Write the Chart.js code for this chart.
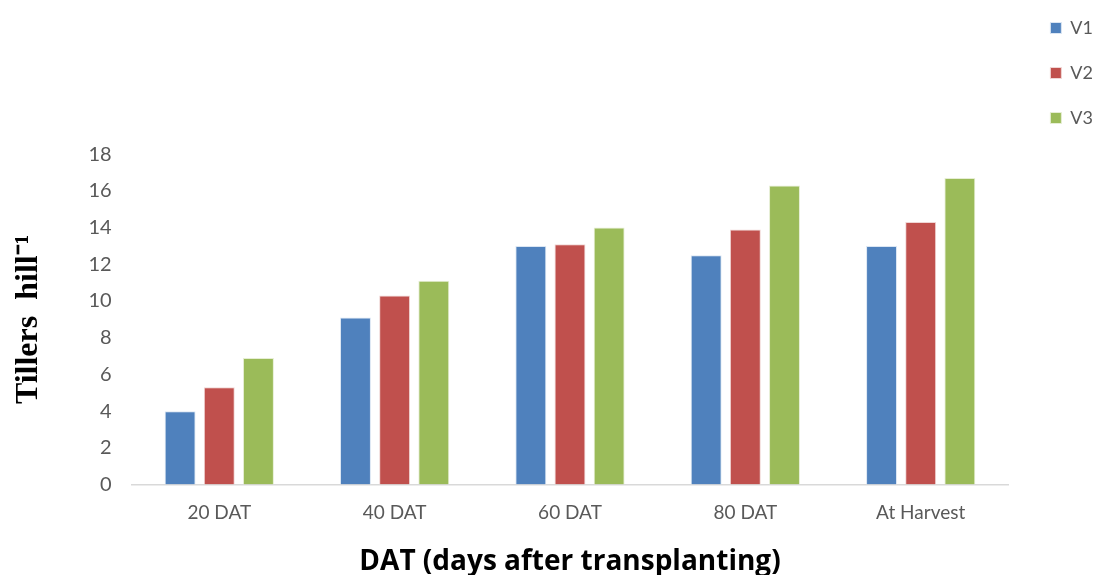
<!DOCTYPE html>
<html>
<head>
<meta charset="utf-8">
<script src="https://cdn.jsdelivr.net/npm/chart.js@4"></script>
<style>
  html, body { margin: 0; padding: 0; background: #fff; }
  #wrap { width: 1103px; height: 575px; }
</style>
</head>
<body>
<div id="wrap"><canvas id="c" width="1103" height="575"></canvas></div>
<script>
const categories = ['20 DAT', '40 DAT', '60 DAT', '80 DAT', 'At Harvest'];
const v1 = [4.0, 9.1, 13.0, 12.5, 13.0];
const v2 = [5.3, 10.3, 13.1, 13.9, 14.3];
const v3 = [6.9, 11.1, 14.0, 16.3, 16.7];
const yTicks = [0, 2, 4, 6, 8, 10, 12, 14, 16, 18];

const tickColor = '#595959';

new Chart(document.getElementById('c'), {
  type: 'bar',
  data: {
    labels: categories,
    datasets: [
      { label: 'V1', data: v1, backgroundColor: '#4f81bd', borderColor: '#dbe6f3', borderWidth: 1 },
      { label: 'V2', data: v2, backgroundColor: '#c0504d', borderColor: '#f0d6d5', borderWidth: 1 },
      { label: 'V3', data: v3, backgroundColor: '#9bbb59', borderColor: '#e6eed4', borderWidth: 1 }
    ]
  },
  options: {
    responsive: false,
    animation: false,
    devicePixelRatio: 1,
    layout: { padding: { top: -8, left: 10, right: 0, bottom: -4 } },
    datasets: { bar: { categoryPercentage: 0.67, barPercentage: 0.79 } },
    plugins: {
      title: { display: true, text: ' ', padding: { top: 143, bottom: 0 }, font: { size: 16 } },
      tooltip: { enabled: false },
      legend: {
        position: 'right',
        align: 'start',
        labels: {
          boxWidth: 11,
          boxHeight: 11,
          padding: 27,
          color: tickColor,
          font: { family: 'Lato', size: 18 }
        }
      }
    },
    scales: {
      x: {
        grid: { display: false, drawTicks: false },
        border: { display: true, color: '#d9d9d9', width: 1.5 },
        ticks: { color: tickColor, font: { family: 'Lato', size: 19 }, padding: 17 },
        title: {
          display: true,
          text: 'DAT (days after transplanting)',
          color: '#000',
          font: { family: 'Open Sans', size: 28, weight: 'bold' },
          padding: { top: 4, bottom: 0 }
        }
      },
      y: {
        min: 0,
        max: 18,
        afterBuildTicks: (s) => { s.ticks = yTicks.map(v => ({ value: v })); },
        grid: { display: false, drawTicks: false },
        border: { display: false },
        ticks: { color: tickColor, font: { family: 'Lato', size: 20 }, padding: 20 },
        title: {
          display: true,
          text: 'Tillers  hill⁻¹',
          color: '#000',
          font: { family: 'Liberation Serif', size: 32, weight: 'bold' },
          padding: { top: 0, bottom: 20 }
        }
      },
      yRight: {
        position: 'right',
        display: true,
        grid: { display: false, drawTicks: false },
        border: { display: false },
        ticks: { display: false },
        afterFit: (s) => { s.width = 15; }
      }
    }
  }
});
</script>
</body>
</html>
